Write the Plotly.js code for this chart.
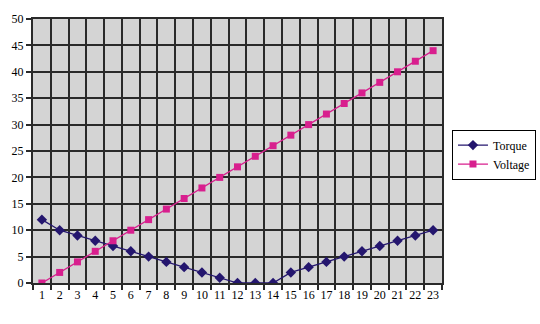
<!DOCTYPE html>
<html><head><meta charset="utf-8">
<script src="https://cdn.plot.ly/plotly-3.0.1.min.js"></script>
<style>html,body{margin:0;padding:0;background:#fff}#c{width:540px;height:324px}</style>
</head><body><div id="c"></div>
<script>
const categories = ["1","2","3","4","5","6","7","8","9","10","11","12","13","14","15","16","17","18","19","20","21","22","23"];
const torque = [12,10,9,8,7,6,5,4,3,2,1,0,0,0,2,3,4,5,6,7,8,9,10];
const voltage = [0,2,4,6,8,10,12,14,16,18,20,22,24,26,28,30,32,34,36,38,40,42,44];
const yTicks = [0,5,10,15,20,25,30,35,40,45,50];

const fontSerif = {family:"Liberation Serif", size:12, color:"#000"};
const traces = [
 {x:categories, y:torque, name:"Torque", type:"scatter", mode:"lines+markers",
  line:{color:"#24166e", width:1.3}, marker:{symbol:"diamond", size:8, color:"#24166e"}},
 {x:categories, y:voltage, name:"Voltage", type:"scatter", mode:"lines+markers",
  line:{color:"#d81f8e", width:1.3}, marker:{symbol:"square", size:7, color:"#d81f8e"}}
];
const layout = {
 width:540, height:324,
 margin:{l:33, r:98, t:19, b:41},
 paper_bgcolor:"#fff", plot_bgcolor:"#d4d4d4",
 font:fontSerif,
 showlegend:true,
 legend:{xref:"container", yref:"container", x:0.837, y:0.6, xanchor:"left", yanchor:"top", bgcolor:"#fff", bordercolor:"#000", borderwidth:1,
   font:fontSerif, tracegroupgap:4},
 xaxis:{type:"category", tickson:"boundaries", range:[-0.5,22.5], showgrid:true, gridcolor:"#2a2a2a", gridwidth:2,
   ticks:"outside", ticklen:5, tickcolor:"#2a2a2a", tickwidth:2, showline:true, linecolor:"#2a2a2a", linewidth:2, mirror:true,
   tickfont:fontSerif, tickangle:0, zeroline:false, fixedrange:true, automargin:false},
 yaxis:{range:[0,50], tickvals:yTicks, ticktext:yTicks.map(String), showgrid:true, gridcolor:"#2a2a2a", gridwidth:2,
   ticks:"outside", ticklen:5, tickcolor:"#2a2a2a", tickwidth:2, showline:true, linecolor:"#2a2a2a", linewidth:2, mirror:true,
   tickfont:fontSerif, zeroline:false, fixedrange:true, automargin:false}
};
Plotly.newPlot("c", traces, layout, {displayModeBar:false, staticPlot:true});
</script></body></html>
